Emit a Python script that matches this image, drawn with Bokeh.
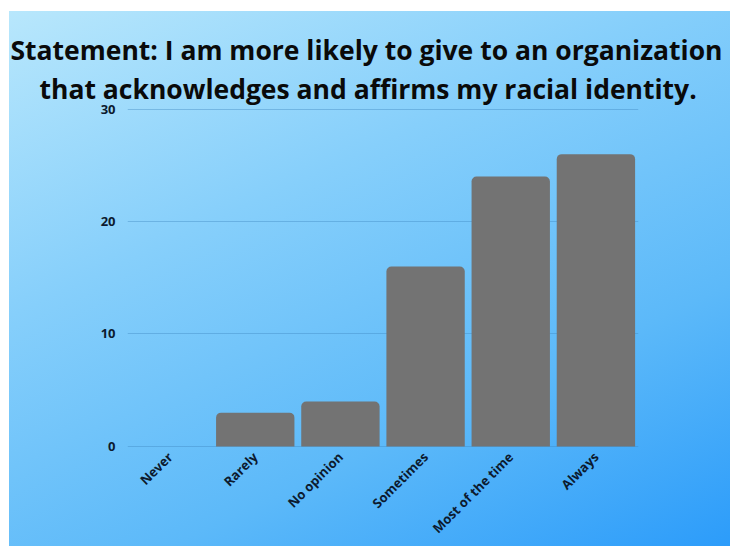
from math import pi
from bokeh.plotting import figure
from bokeh.models import Title, FixedTicker
from bokeh.embed import file_html
from bokeh.resources import INLINE

categories = ["Never", "Rarely", "No opinion", "Sometimes", "Most of the time", "Always"]
counts = [0, 3, 4, 16, 24, 26]
y_ticks = [0, 10, 20, 30]
title_line1 = "Statement: I am more likely to give to an organization"
title_line2 = "that acknowledges and affirms my racial identity."

p = figure(x_range=categories, y_range=(-0.1, 30.15), width=721, height=535,
           output_backend="svg", toolbar_location=None,
           min_border_left=118, min_border_right=92, min_border_top=96, min_border_bottom=98)
p.margin = (11, 0, 0, 9)

p.styles = {"background": "linear-gradient(155deg, #b8e7fc 0%, #86cffb 35%, #5cb9f9 70%, #2c9cfa 100%)"}
p.background_fill_alpha = 0
p.border_fill_alpha = 0
p.outline_line_color = None

p.vbar(x=categories, top=counts, width=0.92, fill_color="#737373", line_color=None,
       border_radius=(5, 5, 0, 0))

p.yaxis.ticker = FixedTicker(ticks=y_ticks)
p.xgrid.grid_line_color = None
p.ygrid.grid_line_color = "#3f86c0"
p.ygrid.grid_line_alpha = 0.4
p.ygrid.grid_line_width = 1

for ax in (p.xaxis, p.yaxis):
    ax.axis_line_color = None
    ax.major_tick_line_color = None
    ax.minor_tick_line_color = None
    ax.major_tick_out = 0
    ax.major_tick_in = 0
    ax.major_label_text_font = "Open Sans"
    ax.major_label_text_font_style = "bold"
    ax.major_label_text_color = "#0c1a2e"
    ax.major_label_text_font_size = "13px"

p.yaxis.major_label_standoff = 12
p.xaxis.major_label_orientation = pi / 4
p.xaxis.major_label_standoff = 7

t2 = Title(text=title_line2, align="left", offset=-88, text_font="Open Sans", text_font_style="bold",
           text_font_size="26.5px", text_color="#0a0a0a", standoff=2)
t1 = Title(text=title_line1, align="left", offset=-117, text_font="Open Sans", text_font_style="bold",
           text_font_size="26.5px", text_color="#0a0a0a", standoff=0)
p.add_layout(t2, "above")
p.add_layout(t1, "above")

open("out.html", "w").write(file_html(p, INLINE))
